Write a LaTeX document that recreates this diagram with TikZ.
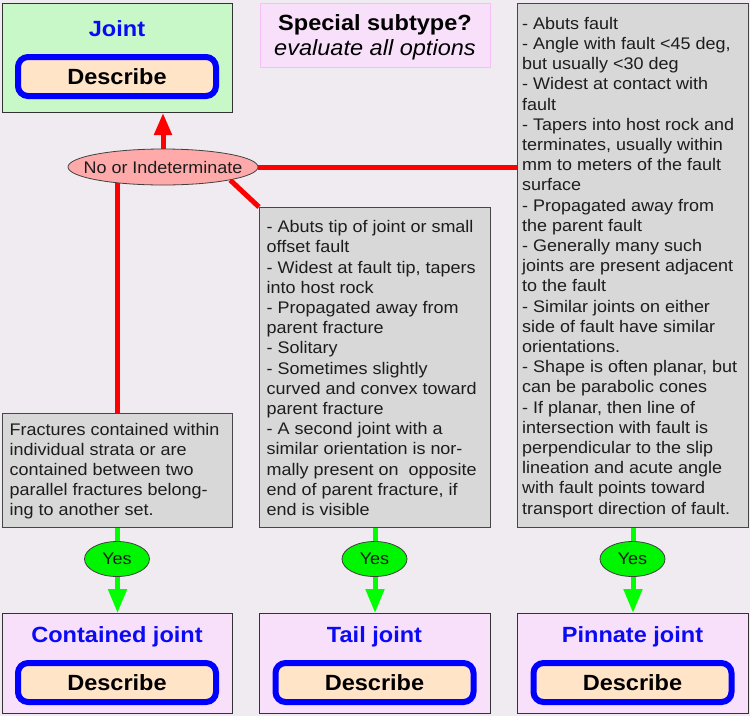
\documentclass[tikz,border=0pt]{standalone}
\usepackage{fontspec}
\setmainfont{Liberation Sans}[FakeStretch=1.07]
\usetikzlibrary{shapes.geometric,arrows.meta,backgrounds}
\definecolor{bgc}{RGB}{239,235,241}
\definecolor{grayfill}{RGB}{216,216,216}
\definecolor{grayedge}{RGB}{70,70,70}
\definecolor{greenfill}{RGB}{200,248,200}
\definecolor{pinkfill}{RGB}{249,224,250}
\definecolor{pinkedge}{RGB}{248,190,248}
\definecolor{peach}{RGB}{255,228,200}
\definecolor{salmon}{RGB}{255,170,170}
\definecolor{yesgreen}{RGB}{0,245,0}
\definecolor{linegreen}{RGB}{0,255,0}
\definecolor{txt}{RGB}{30,28,28}
\definecolor{titleblue}{RGB}{10,10,245}
\newcommand{\bodyfont}{\fontsize{16.8}{20.2}\selectfont}
\newcommand{\titlefont}{\fontsize{22}{25}\selectfont\bfseries}
\begin{document}
\begin{tikzpicture}[x=1pt,y=-1pt,
  graybox/.style={draw=grayedge,fill=grayfill,line width=1pt,anchor=north west,inner sep=0pt},
  resultbox/.style={draw=black!80,fill=pinkfill,line width=1pt,anchor=north west,inner sep=0pt},
  bodytext/.style={font=\bodyfont,text=txt,align=left,anchor=north west,inner sep=0pt},
  titletext/.style={font=\titlefont,text=titleblue,anchor=base,inner sep=0pt},
  describe/.style={draw=blue,fill=peach,line width=6pt,rounded corners=10pt,minimum width=198pt,minimum height=39pt,inner sep=0pt,font=\titlefont,text=black},
  noellipse/.style={ellipse,draw=black!75,fill=salmon,line width=0.8pt,minimum width=190pt,minimum height=36pt,inner xsep=-12.5pt,inner ysep=0pt,font=\bodyfont,text=txt},
  yesellipse/.style={ellipse,draw=black!75,fill=yesgreen,line width=0.8pt,minimum width=65pt,minimum height=35pt,inner sep=0pt,font=\bodyfont,text=txt},
  redline/.style={draw=red,line width=5pt},
  greenline/.style={draw=linegreen,line width=5pt},
]
\useasboundingbox (0,0) rectangle (750,716);

% top boxes
\node[draw=black!80,fill=greenfill,line width=1pt,anchor=north west,inner sep=0pt,minimum width=230pt,minimum height=109pt] (jbox) at (2,3) {};
\node[titletext] (jtitle) at (117,36.5) {Joint};
\node[describe] (jdesc) at (117,76.5) {Describe};

\node[draw=pinkedge,fill=pinkfill,line width=1.2pt,anchor=north west,inner sep=0pt,minimum width=230pt,minimum height=64pt] (special) at (260,3) {};
\node[font=\titlefont,text=black,anchor=base,inner sep=0pt] (sp1) at (375,30.5) {Special subtype?};
\node[font=\fontsize{22}{25}\selectfont\itshape,text=black,anchor=base,inner sep=0pt] (sp2) at (375,55.5) {evaluate all options};

% gray condition boxes
\node[graybox,minimum width=230pt,minimum height=114pt] (lbox) at (2,413) {};
\node[graybox,minimum width=231pt,minimum height=320pt] (mbox) at (259,207) {};
\node[graybox,minimum width=231pt,minimum height=524pt] (rbox) at (517,3) {};

\node[bodytext] (ltext) at (9.5,422.7) {Fractures contained within\\individual strata or are\\contained between two\\parallel fractures belong-\\ing to another set.};

\node[bodytext] (mtext) at (266.5,220.4) {- Abuts tip of joint or small\\offset fault\\- Widest at fault tip, tapers\\into host rock\\- Propagated away from\\parent fracture\\- Solitary\\- Sometimes slightly\\curved and convex toward\\parent fracture\\- A second joint with a\\similar orientation is nor-\\mally present on\ \ opposite\\end of parent fracture, if\\end is visible};

\node[bodytext] (rtext) at (522,17) {- Abuts fault\\- Angle with fault <45 deg,\\but usually <30 deg\\- Widest at contact with\\fault\\- Tapers into host rock and\\terminates, usually within\\mm to meters of the fault\\surface\\- Propagated away from\\the parent fault\\- Generally many such\\joints are present adjacent\\to the fault\\- Similar joints on either\\side of fault have similar\\orientations.\\- Shape is often planar, but\\can be parabolic cones\\- If planar, then line of\\intersection with fault is\\perpendicular to the slip\\lineation and acute angle\\with fault points toward\\transport direction of fault.};

% result boxes
\node[resultbox,minimum width=230pt,minimum height=100pt] (lbot) at (2,613) {};
\node[resultbox,minimum width=231pt,minimum height=100pt] (mbot) at (259,613) {};
\node[resultbox,minimum width=231pt,minimum height=100pt] (rbot) at (517,613) {};
\node[titletext] (ltitle) at (117,642.5) {Contained joint};
\node[titletext] (mtitle) at (374.5,642.5) {Tail joint};
\node[titletext] (rtitle) at (632.5,642.5) {Pinnate joint};
\node[describe] (ldesc) at (117,682.5) {Describe};
\node[describe] (mdesc) at (374.5,682.5) {Describe};
\node[describe] (rdesc) at (632.5,682.5) {Describe};

% decision ellipses
\node[noellipse] (no) at (163,167) {No or Indeterminate};
\node[yesellipse] (lyes) at (117,559) {Yes};
\node[yesellipse] (myes) at (374.5,559) {Yes};
\node[yesellipse] (ryes) at (632.5,559) {Yes};

\begin{scope}[on background layer]
\fill[bgc] (0,0) rectangle (750,716);
\draw[redline,-{Triangle[width=17pt,length=22pt]}] (no.north) -- (no.north |- jbox.south);
\draw[redline] (no.east) -- (no.east -| rbox.west);
\draw[redline] (lbox.north) -- (lbox.north |- no.center);
\draw[redline] (no.-11) -- (mbox.north west);
\draw[greenline,-{Triangle[width=18pt,length=24pt]}] (lbox.south) -- (lbot.north);
\draw[greenline,-{Triangle[width=18pt,length=24pt]}] (mbox.south) -- (mbot.north);
\draw[greenline,-{Triangle[width=18pt,length=24pt]}] (rbox.south) -- (rbot.north);
\end{scope}
\end{tikzpicture}
\end{document}
